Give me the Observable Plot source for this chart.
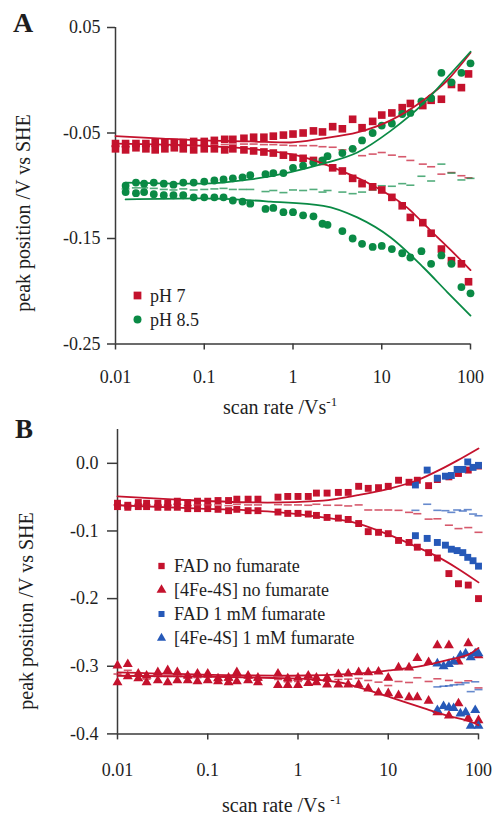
<!DOCTYPE html>
<html>
<head>
<meta charset="utf-8">
<script src="https://cdn.jsdelivr.net/npm/d3@7"></script>
<script src="https://cdn.jsdelivr.net/npm/@observablehq/plot@0.6"></script>
<style>
  html, body { margin: 0; padding: 0; background: #fff; }
  #page { position: relative; width: 493px; height: 816px; overflow: hidden; }
  .panel { position: absolute; left: 0; }
</style>
</head>
<body>
<div id="page">
  <div id="panelA" class="panel" style="top:0"></div>
  <div id="panelB" class="panel" style="top:420px"></div>
</div>
<script>
// ---------- Axis ticks ----------
const xTicks = [0.01, 0.1, 1, 10, 100];
const yTicksA = [0.05, -0.05, -0.15, -0.25];
const yTicksB = [0, -0.1, -0.2, -0.3, -0.4];

// ---------- Panel A: peak potentials (V vs SHE) against scan rate (V/s) ----------
const ratesPH7 = [0.01, 0.013, 0.017, 0.022, 0.028, 0.036, 0.046, 0.058, 0.076, 0.1, 0.13, 0.17, 0.21, 0.28, 0.36, 0.47, 0.6, 0.78, 1, 1.3, 1.7, 2.15, 2.8, 3.6, 4.7, 6, 7.9, 10, 13, 17, 21, 29, 36, 47, 61, 79, 95];
const oxPH7 = [-0.060, -0.060, -0.060, -0.060, -0.059, -0.059, -0.059, -0.059, -0.058, -0.058, -0.057, -0.056, -0.056, -0.055, -0.054, -0.054, -0.053, -0.052, -0.051, -0.050, -0.048, -0.049, -0.044, -0.046, -0.037, -0.045, -0.039, -0.033, -0.031, -0.026, -0.022, -0.024, -0.019, -0.018, -0.004, -0.007, 0.006];
const redPH7 = [-0.065, -0.066, -0.064, -0.065, -0.066, -0.065, -0.064, -0.065, -0.066, -0.065, -0.065, -0.066, -0.065, -0.066, -0.067, -0.068, -0.069, -0.071, -0.073, -0.074, -0.076, -0.077, -0.083, -0.086, -0.093, -0.098, -0.101, -0.104, -0.111, -0.119, -0.130, -0.135, -0.145, -0.160, -0.171, -0.174, -0.191];

const ratesPH85 = [0.013, 0.017, 0.021, 0.027, 0.035, 0.045, 0.058, 0.076, 0.1, 0.13, 0.165, 0.21, 0.27, 0.33, 0.49, 0.6, 0.78, 1, 1.3, 1.7, 2.15, 2.45, 3.6, 4.7, 6, 7.9, 10, 13, 17, 21, 28, 36, 47, 61, 79, 100];
const oxPH85 = [-0.100, -0.097, -0.098, -0.097, -0.098, -0.099, -0.097, -0.097, -0.096, -0.095, -0.094, -0.093, -0.092, -0.090, -0.089, -0.088, -0.088, -0.083, -0.081, -0.078, -0.076, -0.072, -0.069, -0.065, -0.057, -0.050, -0.043, -0.041, -0.032, -0.031, -0.020, -0.017, 0.007, -0.002, 0.007, 0.016];
const redPH85 = [-0.106, -0.107, -0.106, -0.108, -0.109, -0.109, -0.109, -0.111, -0.111, -0.111, -0.111, -0.114, -0.115, -0.117, -0.122, -0.121, -0.125, -0.125, -0.128, -0.129, -0.136, -0.137, -0.143, -0.150, -0.155, -0.158, -0.157, -0.160, -0.164, -0.168, -0.162, -0.174, -0.166, -0.174, -0.196, -0.202];

// Model fits (solid lines)
const fitRatesPH7Ox = [0.01, 0.03, 0.1, 0.33, 0.94, 2.2, 5.3, 12.6, 29.5, 55, 100];
const fitPH7Ox = [-0.053, -0.055, -0.057, -0.058, -0.059, -0.055, -0.0495, -0.038, -0.019, 0.000, 0.026];
const fitRatesPH7Red = [0.01, 0.09, 0.33, 1.2, 3.4, 8, 19.5, 35, 60, 100];
const fitPH7Red = [-0.060, -0.062, -0.065, -0.072, -0.0855, -0.100, -0.121, -0.142, -0.161, -0.180];
const fitRatesPH85Ox = [0.013, 0.09, 0.33, 0.94, 2.2, 5.3, 12.6, 29.5, 60, 100];
const fitPH85Ox = [-0.097, -0.098, -0.094, -0.087, -0.079, -0.0685, -0.048, -0.022, 0.0064, 0.027];
const fitRatesPH85Red = [0.013, 0.09, 0.56, 2.2, 5.3, 12.6, 29.5, 55, 100];
const fitPH85Red = [-0.113, -0.112, -0.115, -0.119, -0.130, -0.149, -0.1775, -0.201, -0.223];

// ---------- Panel B ----------
const ratesB = [0.01, 0.013, 0.017, 0.021, 0.028, 0.036, 0.046, 0.06, 0.077, 0.1, 0.13, 0.17, 0.21, 0.28, 0.36, 0.6, 0.77, 1, 1.3, 1.6, 2.1, 2.8, 3.6, 4.7, 6, 7.8, 10, 13, 17, 21, 28, 35, 47, 60, 77, 100];
const fadOx = [-0.059, -0.062, -0.058, -0.059, -0.059, -0.059, -0.056, -0.058, -0.056, -0.056, -0.055, -0.055, -0.053, -0.053, -0.053, -0.050, -0.049, -0.049, -0.049, -0.044, -0.044, -0.043, -0.043, -0.034, -0.037, -0.036, -0.034, -0.025, -0.028, -0.025, -0.033, -0.024, -0.020, -0.015, -0.010, -0.004];
const fadRed = [-0.064, -0.065, -0.064, -0.064, -0.065, -0.065, -0.065, -0.067, -0.067, -0.067, -0.068, -0.070, -0.068, -0.070, -0.070, -0.072, -0.074, -0.074, -0.075, -0.077, -0.080, -0.081, -0.083, -0.089, -0.101, -0.102, -0.104, -0.114, -0.117, -0.124, -0.132, -0.140, -0.163, -0.178, -0.180, -0.200];
const feOx = [-0.299, -0.297, -0.311, -0.314, -0.309, -0.306, -0.309, -0.314, -0.311, -0.311, -0.318, -0.317, -0.309, -0.314, -0.317, -0.311, -0.318, -0.317, -0.314, -0.317, -0.317, -0.312, -0.311, -0.309, -0.309, -0.308, -0.317, -0.302, -0.302, -0.288, -0.294, -0.269, -0.269, -0.293, -0.266, -0.284];
const feRed = [-0.324, -0.315, -0.318, -0.324, -0.321, -0.324, -0.321, -0.321, -0.3225, -0.321, -0.3225, -0.324, -0.3225, -0.321, -0.324, -0.328, -0.328, -0.328, -0.325, -0.324, -0.327, -0.327, -0.327, -0.327, -0.333, -0.339, -0.340, -0.343, -0.346, -0.346, -0.351, -0.368, -0.373, -0.355, -0.377, -0.380];

const ratesFadFum = [20, 27, 35, 43, 50, 58, 67, 76, 87, 100];
const fadFumOx = [-0.032, -0.010, -0.022, -0.019, -0.018, -0.009, -0.009, 0.002, -0.006, -0.003];
const fadFumRed = [-0.107, -0.111, -0.117, -0.121, -0.127, -0.129, -0.132, -0.139, -0.144, -0.152];
const ratesFeFum = [35, 41, 47, 53, 63, 72, 82, 92, 100];
const feFumOx = [-0.296, -0.300, -0.297, -0.293, -0.284, -0.281, -0.287, -0.281, -0.281];
const feFumRed = [-0.365, -0.359, -0.361, -0.362, -0.370, -0.368, -0.388, -0.365, -0.388];

const fitRatesFadOx = [0.01, 0.036, 0.46, 1.9, 4.6, 10.6, 21, 38, 58, 100];
const fitFadOx = [-0.049, -0.053, -0.058, -0.055, -0.047, -0.037, -0.025, -0.009, 0.004, 0.022];
const fitRatesFadRed = [0.01, 0.083, 0.46, 0.83, 1.9, 4.6, 10.6, 21, 38, 58, 100];
const fitFadRed = [-0.062, -0.067, -0.071, -0.074, -0.080, -0.089, -0.1065, -0.124, -0.1405, -0.155, -0.176];
const fitRatesFeOx = [0.01, 0.83, 4.6, 10.6, 24.6, 45, 82, 100];
const fitFeOx = [-0.309, -0.314, -0.311, -0.306, -0.299, -0.291, -0.281, -0.273];
const fitRatesFeRed = [0.01, 0.83, 2.96, 4.6, 10.6, 24.6, 45, 82, 100];
const fitFeRed = [-0.314, -0.318, -0.324, -0.331, -0.346, -0.362, -0.373, -0.382, -0.387];

// ---------- Styling ----------
const RED = "#c4122d", GREEN = "#0a8a45", BLUE = "#2659b8", AXIS = "#3a3a3a", INK = "#1e1e1e";
const FONT = "'Liberation Serif', 'Times New Roman', serif";

const toRows = (rates, values) => rates.map((rate, i) => ({rate, E: values[i]})).filter(d => d.E != null);
// mid-point potential of each oxidative / reductive pair
const midRows = (rates, ox, red) => rates.flatMap((rate, i) =>
  ox[i] != null && red[i] != null ? [{rate, E: (ox[i] + red[i]) / 2}] : []);

// short horizontal dash used for the mid-point potentials
const dashSymbol = {
  draw(context, size) {
    const r = Math.sqrt(size / Math.PI);
    context.moveTo(-1.15 * r, 0);
    context.lineTo(1.15 * r, 0);
  }
};

const scatter = (rates, values, symbol, color, r) =>
  Plot.dot(toRows(rates, values), {x: "rate", y: "E", symbol, fill: color, r});
const midpoints = (rates, ox, red, color) =>
  Plot.dot(midRows(rates, ox, red), {x: "rate", y: "E", symbol: dashSymbol, fill: "none", stroke: color, strokeWidth: 1.6, strokeOpacity: 0.7, r: 3.5});
const fit = (rates, values, color) =>
  Plot.line(toRows(rates, values), {x: "rate", y: "E", stroke: color, strokeWidth: 1.8, curve: "monotone-x"});

const baseStyle = {fontFamily: FONT, fontSize: "18px", color: INK, background: "transparent", overflow: "visible"};

// ---------- Panel A ----------
const svgA = Plot.plot({
  width: 493, height: 420,
  marginTop: 27, marginRight: 23, marginBottom: 76.5, marginLeft: 115,
  style: baseStyle,
  x: {type: "log", domain: [0.01, 100]},
  y: {domain: [-0.25, 0.05]},
  marks: [
    Plot.axisX({ticks: xTicks, tickFormat: d => String(d), tickSize: 6, tickPadding: 20, label: null, stroke: AXIS, strokeWidth: 1.5}),
    Plot.axisY({ticks: yTicksA, tickFormat: d => d.toFixed(2), tickSize: 8, tickPadding: 7, label: null, stroke: AXIS, strokeWidth: 1.5}),
    Plot.ruleY([-0.25], {stroke: AXIS, strokeWidth: 1.5}),
    Plot.ruleX([0.01], {stroke: AXIS, strokeWidth: 1.5}),
    midpoints(ratesPH7, oxPH7, redPH7, RED),
    midpoints(ratesPH85, oxPH85, redPH85, GREEN),
    scatter(ratesPH7, oxPH7, "square", RED, 4.3),
    scatter(ratesPH7, redPH7, "square", RED, 4.3),
    scatter(ratesPH85, oxPH85, "circle", GREEN, 3.9),
    scatter(ratesPH85, redPH85, "circle", GREEN, 3.9),
    fit(fitRatesPH7Ox, fitPH7Ox, RED),
    fit(fitRatesPH7Red, fitPH7Red, RED),
    fit(fitRatesPH85Ox, fitPH85Ox, GREEN),
    fit(fitRatesPH85Red, fitPH85Red, GREEN)
  ]
});
document.getElementById("panelA").append(svgA);

// ---------- Panel B ----------
const svgB = Plot.plot({
  width: 493, height: 396,
  marginTop: 9, marginRight: 15, marginBottom: 82.6, marginLeft: 117,
  style: baseStyle,
  x: {type: "log", domain: [0.01, 100]},
  y: {domain: [-0.4, 0.05]},
  marks: [
    Plot.axisX({ticks: xTicks, tickFormat: d => String(d), tickSize: 6, tickPadding: 23, label: null, stroke: AXIS, strokeWidth: 1.5}),
    Plot.axisY({ticks: yTicksB, tickFormat: d => d.toFixed(1), tickSize: 10, tickPadding: 9, label: null, stroke: AXIS, strokeWidth: 1.5}),
    Plot.ruleY([-0.4], {stroke: AXIS, strokeWidth: 1.5}),
    Plot.ruleX([0.01], {stroke: AXIS, strokeWidth: 1.5}),
    midpoints(ratesB, fadOx, fadRed, RED),
    midpoints(ratesB, feOx, feRed, RED),
    midpoints(ratesFadFum, fadFumOx, fadFumRed, BLUE),
    midpoints(ratesFeFum, feFumOx, feFumRed, BLUE),
    scatter(ratesB, fadOx, "square", RED, 3.9),
    scatter(ratesB, fadRed, "square", RED, 3.9),
    scatter(ratesB, feOx, "triangle", RED, 3.7),
    scatter(ratesB, feRed, "triangle", RED, 3.7),
    scatter(ratesFadFum, fadFumOx, "square", BLUE, 3.9),
    scatter(ratesFadFum, fadFumRed, "square", BLUE, 3.9),
    scatter(ratesFeFum, feFumOx, "triangle", BLUE, 3.7),
    scatter(ratesFeFum, feFumRed, "triangle", BLUE, 3.7),
    fit(fitRatesFadOx, fitFadOx, RED),
    fit(fitRatesFadRed, fitFadRed, RED),
    fit(fitRatesFeOx, fitFeOx, RED),
    fit(fitRatesFeRed, fitFeRed, RED)
  ]
});
document.getElementById("panelB").append(svgB);

// ---------- Titles, panel letters and legends ----------
function decorate(svg, o) {
  const g = d3.select(svg).append("g")
    .attr("font-family", FONT).attr("fill", INK).attr("text-anchor", "start");
  g.append("text").attr("x", o.letter[0]).attr("y", o.letter[1])
    .attr("font-size", o.letter[2]).attr("font-weight", "bold").text(o.letter[3]);
  g.append("text").attr("transform", `translate(${o.yTitle[0]},${o.yTitle[1]}) rotate(-90)`)
    .attr("text-anchor", "middle").attr("font-size", 20).text("peak position /V vs SHE");
  const xt = g.append("text").attr("x", o.xTitle[0]).attr("y", o.xTitle[1])
    .attr("text-anchor", "start").attr("font-size", 20);
  xt.append("tspan").text("scan rate /Vs" + o.xTitle[2]);
  xt.append("tspan").attr("font-size", 13).attr("dy", -8).text("-1");
  o.legend.forEach(([label, shape, color, size], i) => {
    const y = o.legendY + i * o.legendStep;
    g.append("path")
      .attr("transform", `translate(${o.legendX},${y})`)
      .attr("d", d3.symbol(shape, size)())
      .attr("fill", color);
    g.append("text").attr("x", o.legendX + 12.5).attr("y", y + 6)
      .attr("text-anchor", "start").attr("font-size", 18).text(label);
  });
}

decorate(svgA, {
  letter: [13, 32, 28, "A"],
  yTitle: [30, 213],
  xTitle: [223, 414, ""],
  legendX: 137.5, legendY: 295.5, legendStep: 24,
  legend: [["pH 7", d3.symbolSquare, RED, 60], ["pH 8.5", d3.symbolCircle, GREEN, 50]]
});

decorate(svgB, {
  letter: [15, 18, 27, "B"],
  yTitle: [33, 191],
  xTitle: [222, 392, " "],
  legendX: 161.5, legendY: 146, legendStep: 24,
  legend: [
    ["FAD no fumarate", d3.symbolSquare, RED, 40],
    ["[4Fe-4S] no fumarate", d3.symbolTriangle, RED, 42],
    ["FAD 1 mM fumarate", d3.symbolSquare, BLUE, 36],
    ["[4Fe-4S] 1 mM fumarate", d3.symbolTriangle, BLUE, 36]
  ]
});
</script>
</body>
</html>
